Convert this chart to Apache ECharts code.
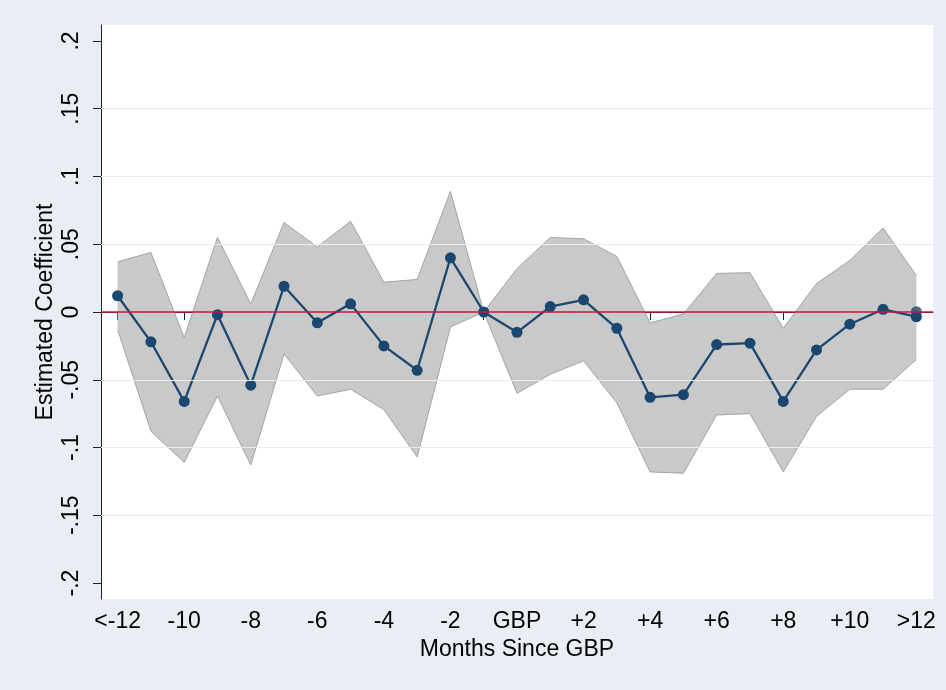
<!DOCTYPE html>
<html>
<head>
<meta charset="utf-8">
<script src="https://cdn.jsdelivr.net/npm/echarts@6/dist/echarts.min.js"></script>
<style>
html,body{margin:0;padding:0;background:#e9eef4;}
#chart{width:946px;height:690px;}
</style>
</head>
<body>
<div id="chart"></div>
<script>
//months relative to GBP
var months = ['<-12','-11','-10','-9','-8','-7','-6','-5','-4','-3','-2','-1','GBP','+1','+2','+3','+4','+5','+6','+7','+8','+9','+10','+11','>12'];
//point estimates
var coef = [0.012, -0.022, -0.066, -0.002, -0.054, 0.019, -0.008, 0.006, -0.025, -0.043, 0.040, 0, -0.015, 0.004, 0.009, -0.012, -0.063, -0.061, -0.024, -0.023, -0.066, -0.028, -0.009, 0.002, -0.0035];
//confidence band
var upper = [0.037, 0.044, -0.019, 0.055, 0.006, 0.066, 0.048, 0.067, 0.022, 0.024, 0.089, 0, 0.032, 0.055, 0.054, 0.041, -0.008, -0.0015, 0.0285, 0.029, -0.012, 0.021, 0.038, 0.062, 0.027];
var lower = [-0.013, -0.088, -0.111, -0.062, -0.113, -0.031, -0.062, -0.057, -0.072, -0.107, -0.011, 0, -0.060, -0.046, -0.036, -0.067, -0.118, -0.119, -0.076, -0.075, -0.118, -0.077, -0.057, -0.057, -0.035];
//second estimate drawn at the last bin
var extraPoint = [['>12', 0.0002]];
//y ticks
var yTicks = [-0.2, -0.15, -0.1, -0.05, 0, 0.05, 0.1, 0.15, 0.2];
var yTickLabels = ['-.2', '-.15', '-.1', '-.05', '0', '.05', '.1', '.15', '.2'];
var gridVals = [-0.15, -0.1, -0.05, 0.05, 0.1, 0.15];

var bandWidth = upper.map(function(u, i){ return u - lower[i]; });
var font = 'Liberation Sans, Arial, Helvetica, sans-serif';

var chart = echarts.init(document.getElementById('chart'));
var option = {
	backgroundColor: '#e9eef4',
	animation: false,
	grid: {
		left: 101, right: 13, top: 25, bottom: 91,
		show: true, backgroundColor: '#ffffff', borderWidth: 0
	},
	xAxis: {
		type: 'category',
		data: months,
		boundaryGap: true,
		name: 'Months Since GBP',
		nameLocation: 'middle',
		nameGap: 39,
		nameMoveOverlap: false,
		nameTextStyle: { fontSize: 23, color: '#000', fontFamily: font },
		axisLine: { lineStyle: { color: '#222', width: 1 } },
		axisTick: { show: true, alignWithLabel: true, interval: 0, length: 8, lineStyle: { color: '#222' } },
		axisLabel: { interval: 1, fontSize: 23, color: '#000', fontFamily: font, margin: 11 },
		splitLine: { show: false }
	},
	yAxis: {
		type: 'value',
		min: -0.2118,
		max: 0.2118,
		name: 'Estimated Coefficient',
		nameLocation: 'middle',
		nameRotate: 90,
		nameGap: 44,
		nameMoveOverlap: false,
		nameTextStyle: { fontSize: 23, color: '#000', fontFamily: font },
		axisLine: { show: true, lineStyle: { color: '#222', width: 1 } },
		axisTick: { show: true, length: 8, customValues: yTicks, lineStyle: { color: '#222' } },
		axisLabel: {
			customValues: yTicks,
			rotate: 90,
			fontSize: 23,
			color: '#000',
			fontFamily: font,
			margin: 18,
			formatter: function(v){
				for (var i = 0; i < yTicks.length; i++) {
					if (Math.abs(yTicks[i] - v) < 1e-6) return yTickLabels[i];
				}
				return '';
			}
		},
		splitLine: { show: false }
	},
	series: [
		{
			//grid lines
			name: 'grid',
			type: 'line',
			data: [],
			z: 0,
			silent: true,
			markLine: {
				silent: true,
				symbol: 'none',
				label: { show: false },
				lineStyle: { color: '#ececec', width: 1, type: 'solid' },
				data: gridVals.map(function(v){ return { yAxis: v }; })
			}
		},
		{
			name: 'lower',
			type: 'line',
			data: lower,
			stack: 'ci',
			stackStrategy: 'all',
			symbol: 'none',
			z: 1,
			lineStyle: { color: '#a3a3a3', width: 1 }
		},
		{
			name: 'band',
			type: 'line',
			data: bandWidth,
			stack: 'ci',
			stackStrategy: 'all',
			symbol: 'none',
			z: 1,
			lineStyle: { color: '#a3a3a3', width: 1 },
			areaStyle: { color: '#c9c9c9', opacity: 1 }
		},
		{
			//zero line
			name: 'zero',
			type: 'line',
			data: [],
			z: 2,
			markLine: {
				silent: true,
				symbol: 'none',
				label: { show: false },
				lineStyle: { color: '#c8163c', width: 1.5, type: 'solid' },
				data: [{ yAxis: 0 }]
			}
		},
		{
			name: 'coef',
			type: 'line',
			data: coef,
			z: 3,
			symbol: 'circle',
			symbolSize: 11,
			itemStyle: { color: '#1a476f' },
			lineStyle: { color: '#1a476f', width: 2.3 }
		},
		{
			name: 'coef2',
			type: 'scatter',
			data: extraPoint,
			z: 3,
			symbol: 'circle',
			symbolSize: 11,
			itemStyle: { color: '#1a476f' }
		}
	]
};
chart.setOption(option);
</script>
</body>
</html>
